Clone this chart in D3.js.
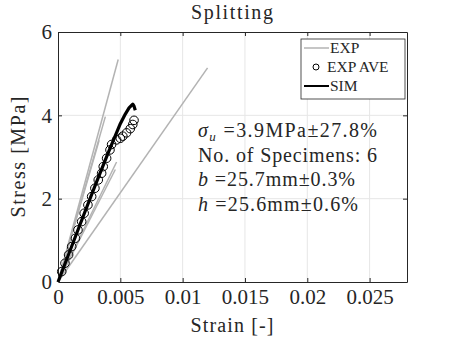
<!DOCTYPE html>
<html>
<head>
<meta charset="utf-8">
<script src="https://cdn.jsdelivr.net/npm/d3@7"></script>
<style>
  body { margin: 0; background: #fff; }
  svg text { font-family: "Times New Roman", "Liberation Serif", serif; fill: #262626; }
</style>
</head>
<body>
<div id="chart-area"></div>
<script>
// data

let xTicks = [0, 0.005, 0.01, 0.015, 0.02, 0.025]
let xTickLabels = ["0", "0.005", "0.01", "0.015", "0.02", "0.025"]
let yTicks = [0, 2, 4, 6]

// each specimen: [strain, stress]
let exp1 = [[0, 0], [0.012, 5.14]]
let exp2 = [[0, 0], [0.00483, 5.34]]
let exp3 = [[0, 0], [0.0038, 3.97]]
let exp4 = [[0, 0], [0.0033, 3.4]]
let exp5 = [[0, 0], [0.0047, 2.88]]
let exp6 = [[0, 0], [0.0046, 2.7]]
let expLines = [exp1, exp2, exp3, exp4, exp5, exp6]

let aveStrain = [0.0003, 0.00056, 0.00085, 0.0011, 0.0014, 0.0016, 0.0019, 0.0021, 0.0024, 0.0027,
                 0.00296, 0.00323, 0.0035, 0.00363, 0.0039, 0.00417, 0.0043, 0.0047, 0.0050,
                 0.0052, 0.0055, 0.0058, 0.0060, 0.0061]
let aveStress = [0.25, 0.45, 0.65, 0.85, 1.05, 1.25, 1.45, 1.65, 1.85, 2.05,
                 2.25, 2.45, 2.61, 2.77, 2.97, 3.17, 3.3, 3.41, 3.45,
                 3.5, 3.58, 3.68, 3.78, 3.88]

let simStrain = [0, 0.001, 0.002, 0.003, 0.004, 0.0045, 0.005, 0.0054, 0.0057, 0.006, 0.0061, 0.0062]
let simStress = [0, 0.78, 1.56, 2.33, 3.08, 3.44, 3.8, 4.03, 4.18, 4.27, 4.22, 4.12]

let infoLines = ["=3.9MPa\u00b127.8%", "No. of Specimens: 6", "=25.7mm\u00b10.3%", "=25.6mm\u00b10.6%"]

// layout

let width = 450
let height = 338
let margin = {left: 58, right: 43, top: 32, bottom: 56}
let w = width - margin.left - margin.right
let h = height - margin.top - margin.bottom
let serif = "'Times New Roman', 'Liberation Serif', serif"

let svg = d3.select("#chart-area").append("svg")
            .attr("width", width)
            .attr("height", height)
            .style("font-family", serif)

let g = svg.append("g")
           .attr("transform", "translate(" + margin.left + "," + margin.top + ")")

let x = d3.scaleLinear().domain([0, 0.028]).range([0, w])
let y = d3.scaleLinear().domain([0, 6]).range([h, 0])

// grid
g.selectAll(".gx").data(xTicks.slice(1))
  .enter().append("line")
  .attr("x1", d => x(d)).attr("x2", d => x(d))
  .attr("y1", 0).attr("y2", h)
  .attr("stroke", "#e6e6e6").attr("stroke-width", 1)
g.selectAll(".gy").data(yTicks.slice(1, -1))
  .enter().append("line")
  .attr("x1", 0).attr("x2", w)
  .attr("y1", d => y(d)).attr("y2", d => y(d))
  .attr("stroke", "#e6e6e6").attr("stroke-width", 1)

// axes
let xAxis = g.append("g").attr("transform", "translate(0," + h + ")")
             .call(d3.axisBottom(x).tickValues(xTicks).tickFormat((d, i) => xTickLabels[i])
                     .tickSizeInner(-4).tickSizeOuter(0).tickPadding(7))
let yAxis = g.append("g")
             .call(d3.axisLeft(y).tickValues(yTicks).tickFormat(d3.format("d"))
                     .tickSizeInner(-4).tickSizeOuter(0).tickPadding(6))
let xTop = g.append("g")
            .call(d3.axisTop(x).tickValues(xTicks).tickFormat("").tickSizeInner(-4).tickSizeOuter(0))
let yRight = g.append("g").attr("transform", "translate(" + w + ",0)")
              .call(d3.axisRight(y).tickValues(yTicks).tickFormat("").tickSizeInner(-4).tickSizeOuter(0))

g.selectAll(".tick").filter(d => d == 0).select("line").remove()
svg.selectAll(".domain").attr("stroke", "#262626")
svg.selectAll(".tick line").attr("stroke", "#262626")
svg.selectAll("g").attr("font-family", null)
svg.selectAll(".tick text").style("font-size", "21px").attr("fill", "#262626")
  .style("font-family", serif)

// lines
let line = d3.line().x(d => x(d[0])).y(d => y(d[1]))

g.selectAll(".exp").data(expLines)
  .enter().append("path")
  .attr("d", line)
  .attr("fill", "none")
  .attr("stroke", "#b3b3b3")
  .attr("stroke-width", 1.5)

let ave = aveStrain.map((d, i) => [d, aveStress[i]])
g.selectAll(".ave").data(ave)
  .enter().append("circle")
  .attr("cx", d => x(d[0]))
  .attr("cy", d => y(d[1]))
  .attr("r", 4.3)
  .attr("fill", "none")
  .attr("stroke", "#000")
  .attr("stroke-width", 1)

let sim = simStrain.map((d, i) => [d, simStress[i]])
g.append("path").datum(sim)
  .attr("d", line)
  .attr("fill", "none")
  .attr("stroke", "#000")
  .attr("stroke-width", 3.2)
  .attr("stroke-linejoin", "round")

// title and labels
svg.append("text").attr("x", 232).attr("y", 19)
   .attr("text-anchor", "middle").style("font-size", "20px")
   .attr("textLength", 82).attr("lengthAdjust", "spacing").text("Splitting")
svg.append("text").attr("x", 232).attr("y", 332)
   .attr("text-anchor", "middle").style("font-size", "20px")
   .attr("textLength", 83).attr("lengthAdjust", "spacing").text("Strain [-]")
svg.append("text").attr("transform", "translate(25,157) rotate(-90)")
   .attr("text-anchor", "middle").style("font-size", "20px")
   .attr("textLength", 121).attr("lengthAdjust", "spacing").text("Stress [MPa]")

// info text
let info = svg.append("g").style("font-size", "20px")
let t0 = info.append("text").attr("x", 198).attr("y", 137)
              .attr("textLength", 179).attr("lengthAdjust", "spacing")
t0.append("tspan").style("font-style", "italic").text("\u03c3")
t0.append("tspan").style("font-style", "italic").style("font-size", "13px").attr("dy", 4).text("u")
t0.append("tspan").attr("dy", -4).text(" " + infoLines[0])
info.append("text").attr("x", 198).attr("y", 161.5)
    .attr("textLength", 179).attr("lengthAdjust", "spacing").text(infoLines[1])
let t2 = info.append("text").attr("x", 198).attr("y", 186)
              .attr("textLength", 157).attr("lengthAdjust", "spacing")
t2.append("tspan").style("font-style", "italic").text("b")
t2.append("tspan").text(" " + infoLines[2])
let t3 = info.append("text").attr("x", 198).attr("y", 210.5)
              .attr("textLength", 160).attr("lengthAdjust", "spacing")
t3.append("tspan").style("font-style", "italic").text("h")
t3.append("tspan").text(" " + infoLines[3])

// legend
let leg = svg.append("g")
leg.append("rect").attr("x", 301).attr("y", 39).attr("width", 104).attr("height", 60)
   .attr("fill", "#fff").attr("stroke", "#262626").attr("stroke-width", 0.8)
leg.append("line").attr("x1", 304).attr("x2", 329).attr("y1", 48).attr("y2", 48)
   .attr("stroke", "#b3b3b3").attr("stroke-width", 1.5)
leg.append("circle").attr("cx", 316).attr("cy", 67).attr("r", 3)
   .attr("fill", "none").attr("stroke", "#000")
leg.append("line").attr("x1", 304).attr("x2", 329).attr("y1", 86).attr("y2", 86)
   .attr("stroke", "#000").attr("stroke-width", 2)
let legNames = ["EXP", "EXP AVE", "SIM"]
leg.selectAll(".ln").data(legNames).enter().append("text")
   .attr("x", (d, i) => i == 1 ? 327 : 330)
   .attr("y", (d, i) => 53 + i * 19)
   .style("font-size", "15.5px")
   .text(d => d)
</script>
</body>
</html>
